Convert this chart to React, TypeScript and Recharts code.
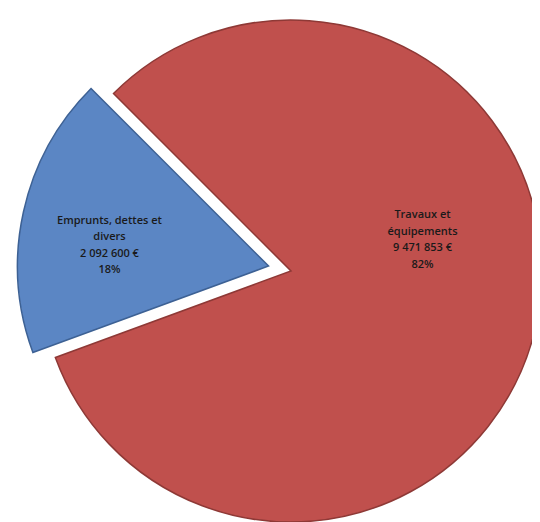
import { PieChart, Pie, Cell } from 'recharts';

const categories = ['Travaux et équipements', 'Emprunts, dettes et divers'];
const amounts = [9471853, 2092600];
const amountLabels = ['9 471 853 €', '2 092 600 €'];
const percentLabels = ['82%', '18%'];
const nameLines = [['Travaux et', 'équipements'], ['Emprunts, dettes et', 'divers']];

const fills = ['#C0504D', '#5B86C4'];
const strokes = ['#8E3936', '#3D6194'];

const data = categories.map((name, i) => ({ name, value: amounts[i] }));

const CX = 278;
const CY = 258;
const R = 251;
// blue slice pulled out towards its bisector
const EXPLODE = 23;

function renderLabel(visibleIndex: number, labelPos: { r: number; angle: number }) {
  return (props: any) => {
    if (props.index !== visibleIndex) return null;
    const { cx, cy, outerRadius } = props;
    const rad = (labelPos.angle * Math.PI) / 180;
    const x = cx + outerRadius * labelPos.r * Math.cos(rad);
    const y = cy - outerRadius * labelPos.r * Math.sin(rad);
    const lines = [...nameLines[visibleIndex], amountLabels[visibleIndex], percentLabels[visibleIndex]];
    const lh = 16.5;
    const y0 = y - ((lines.length - 1) * lh) / 2;
    return (
      <text
        x={x}
        y={y0}
        textAnchor="middle"
        dominantBaseline="central"
        fill="#1a1a1a"
        fontSize={11}
        fontWeight={600}
        fontFamily="'Open Sans', sans-serif"
      >
        {lines.map((l, k) => (
          <tspan key={k} x={x} y={y0 + k * lh}>
            {l}
          </tspan>
        ))}
      </text>
    );
  };
}

export default function App() {
  const blueMid = 135 + (360 * amounts[1]) / (amounts[0] + amounts[1]) / 2;
  const bRad = (blueMid * Math.PI) / 180;
  const bcx = CX + EXPLODE * Math.cos(bRad);
  const bcy = CY - EXPLODE * Math.sin(bRad);

  return (
    <div style={{ width: 532, height: 514 }}>
      <PieChart width={532} height={514}>
        <Pie
          data={data}
          dataKey="value"
          cx={CX}
          cy={CY}
          outerRadius={R}
          startAngle={135}
          endAngle={-225}
          isAnimationActive={false}
          labelLine={false}
          label={renderLabel(0, { r: 0.54, angle: 14 })}
        >
          {data.map((_, i) => (
            <Cell
              key={i}
              fill={i === 0 ? fills[0] : 'none'}
              stroke={i === 0 ? strokes[0] : 'none'}
              strokeWidth={1.5}
            />
          ))}
        </Pie>
        <Pie
          data={data}
          dataKey="value"
          cx={bcx}
          cy={bcy}
          outerRadius={R}
          startAngle={135}
          endAngle={-225}
          isAnimationActive={false}
          labelLine={false}
          label={renderLabel(1, { r: 0.64, angle: 172 })}
        >
          {data.map((_, i) => (
            <Cell
              key={i}
              fill={i === 1 ? fills[1] : 'none'}
              stroke={i === 1 ? strokes[1] : 'none'}
              strokeWidth={1.5}
            />
          ))}
        </Pie>
      </PieChart>
    </div>
  );
}
